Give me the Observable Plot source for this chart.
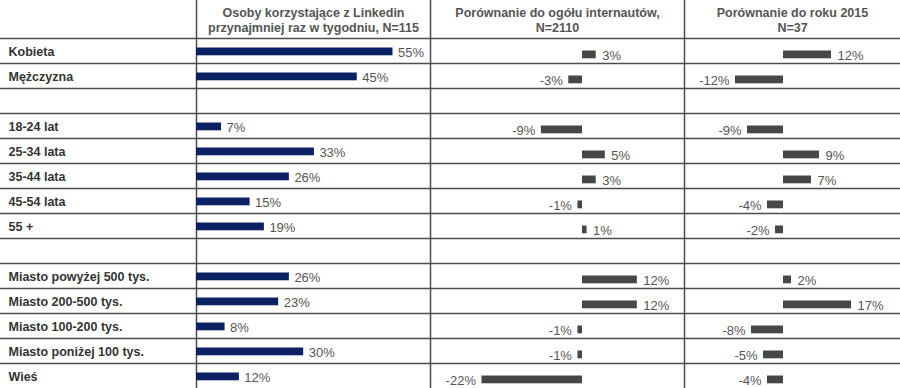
<!DOCTYPE html>
<html>
<head>
<meta charset="utf-8">
<script src="https://cdn.jsdelivr.net/npm/d3@7"></script>
<script src="https://cdn.jsdelivr.net/npm/@observablehq/plot@0.6"></script>
<style>
  html, body { margin: 0; padding: 0; background: #fff; }
  #chart { display: flex; width: 900px; height: 388px; overflow: hidden; }
  #chart svg { display: block; flex: none; }
</style>
</head>
<body>
<div id="chart"></div>
<script>
// ---- data ----
const categories = [
  "Kobieta", "Mężczyzna", "",
  "18-24 lat", "25-34 lata", "35-44 lata", "45-54 lata", "55 +", " ",
  "Miasto powyżej 500 tys.", "Miasto 200-500 tys.", "Miasto 100-200 tys.", "Miasto poniżej 100 tys.", "Wieś"
];
const linkedinWeekly = [55, 45, null, 7, 33, 26, 15, 19, null, 26, 23, 8, 30, 12];
const vsInternetUsers = [3, -3, null, -9, 5, 3, -1, 1, null, 12, 12, -1, -1, -22];
const vsYear2015 = [12, -12, null, -9, 9, 7, -4, -2, null, 2, 17, -8, -5, -4];
const headers = [
  "Osoby korzystające z Linkedin\nprzynajmniej raz w tygodniu, N=115",
  "Porównanie do ogółu internautów,\nN=2110",
  "Porównanie do roku 2015\nN=37"
];

// ---- layout ----
const H = 388, TOP = 37, ROW = 25.2;
const FONT = "'Liberation Sans', Arial, Helvetica, sans-serif";
const LINE = "#4d4d4d";
const yScale = {type: "band", domain: categories, range: [TOP, TOP + categories.length * ROW], padding: 0, axis: null};
const commonStyle = {overflow: "visible", background: "transparent", fontFamily: FONT};

const chart = document.getElementById("chart");

// label column
chart.append(Plot.plot({
  width: 196, height: H, margin: 0,
  x: {domain: [0, 1], axis: null},
  y: yScale,
  style: commonStyle,
  marks: [
    Plot.ruleY(categories, {y: d => d, dy: -ROW / 2, stroke: LINE, strokeWidth: 1.5}),
    Plot.text(categories, {y: d => d, text: d => d, frameAnchor: "left", dx: 8, dy: 0.5,
      textAnchor: "start", fontSize: 12.5, fontWeight: "bold", fill: "#333"})
  ]
}));

function column(values, {width, domain, fill, insetTop, insetBottom, textDy, dxLabel, header}) {
  const data = categories.map((c, i) => ({key: c, v: values[i]})).filter(d => d.v != null);
  return Plot.plot({
    width, height: H, margin: 0,
    x: {domain, axis: null},
    y: yScale,
    style: commonStyle,
    marks: [
      Plot.ruleY(categories, {y: d => d, dy: -ROW / 2, stroke: LINE, strokeWidth: 1.5}),
      Plot.ruleX([domain[0]], {stroke: LINE, strokeWidth: 1.5}),
      Plot.barX(data, {x: "v", y: "key", fill, insetTop, insetBottom}),
      Plot.text(data.filter(d => d.v >= 0), {x: "v", y: "key", text: d => d.v + "%",
        dx: dxLabel, dy: textDy, textAnchor: "start", fontSize: 13, fill: "#555"}),
      Plot.text(data.filter(d => d.v < 0), {x: "v", y: "key", text: d => d.v + "%",
        dx: -dxLabel, dy: textDy, textAnchor: "end", fontSize: 13, fill: "#555"}),
      Plot.text([header], {frameAnchor: "top", lineAnchor: "top", dy: 6.3, lineHeight: 1.2,
        text: d => d, fontSize: 12.5, fontWeight: "bold", fill: "#555"})
    ]
  });
}

chart.append(column(linkedinWeekly, {
  width: 234, domain: [0, 65.5], fill: "#0c2163",
  insetTop: 9.5, insetBottom: 7.7, textDy: 1.5, dxLabel: 5, header: headers[0]
}));
chart.append(column(vsInternetUsers, {
  width: 254, domain: [-33.26, 22.32], fill: "#474747",
  insetTop: 12.5, insetBottom: 4.7, textDy: 4.5, dxLabel: 6, header: headers[1]
}));
chart.append(column(vsYear2015, {
  width: 216, domain: [-24.75, 29.25], fill: "#474747",
  insetTop: 12.5, insetBottom: 4.7, textDy: 4.5, dxLabel: 6, header: headers[2]
}));
</script>
</body>
</html>
